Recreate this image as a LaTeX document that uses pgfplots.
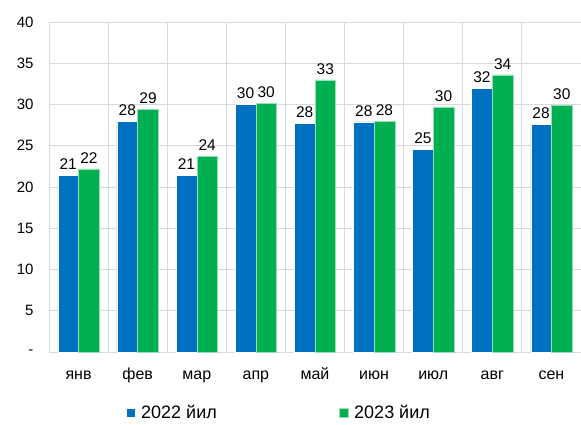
\documentclass[border=0pt]{standalone}
\usepackage{pgfplots}
\pgfplotsset{compat=1.18}
\usepackage{fontspec}
\setmainfont{Liberation Sans}
\definecolor{blue22}{HTML}{0070C0}
\definecolor{green23}{HTML}{00B050}
\definecolor{gridgray}{HTML}{D9D9D9}
\begin{document}
\begin{tikzpicture}
\useasboundingbox (0,0) rectangle (581pt,424pt);
\begin{axis}[
at={(49pt,72pt)}, anchor=south west,
scale only axis,
width=532pt, height=330pt,
ybar, ymin=0, ymax=40,
xmin=-0.5, xmax=8.5,
bar width=0.35,
axis line style={draw=none},
xtick={0,...,8},
xticklabels={янв,фев,мар,апр,май,июн,июл,авг,сен},
minor xtick={-0.5,0.5,...,8.5},
ytick={0,5,...,40},
yticklabels={-\hspace{8pt},5,10,15,20,25,30,35,40},
major tick length=0pt, minor tick length=0pt,
ymajorgrids, xminorgrids,
grid style={gridgray, line width=0.8pt},
minor grid style={gridgray, line width=0.8pt},
/pgf/number format/assume math mode=true,
yticklabel style={font=\fontsize{15}{15}\selectfont, xshift=-12pt},
xticklabel style={font=\fontsize{16}{16}\selectfont, anchor=base, yshift=-27pt},
nodes near coords,
nodes near coords style={font=\fontsize{15.5}{15.5}\selectfont, black, yshift=2pt,
  /pgf/number format/fixed, /pgf/number format/precision=0},
legend columns=2,
legend style={draw=none, at={(0.432,-0.185)}, anchor=center,
  font=\fontsize{18}{18}\selectfont,
  /tikz/every even column/.append style={column sep=120pt}},
legend image code/.code={\fill[#1] (0pt,-4.5pt) rectangle (9pt,4.5pt);},
]
\addplot[fill=blue22, draw=white, line width=0.4pt, bar shift=-0.175]
coordinates {(0,21.4)(1,28.0)(2,21.4)(3,30.0)(4,27.7)(5,27.9)(6,24.6)(7,32.0)(8,27.6)};
\addplot[fill=green23, draw=green23!40!white, line width=0.4pt, bar shift=0.175]
coordinates {(0,22.2)(1,29.4)(2,23.7)(3,30.1)(4,33.0)(5,28.0)(6,29.7)(7,33.6)(8,29.9)};
\legend{\hspace{4pt}2022 йил, \hspace{4pt}2023 йил}
\end{axis}
\end{tikzpicture}
\end{document}
